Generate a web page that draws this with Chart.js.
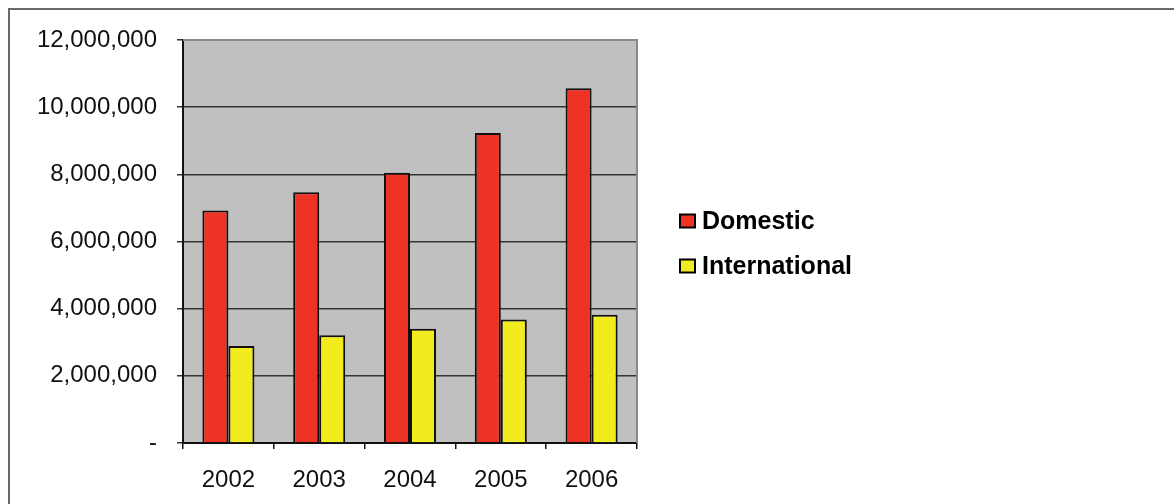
<!DOCTYPE html>
<html>
<head>
<meta charset="utf-8">
<script src="https://cdn.jsdelivr.net/npm/chart.js@4"></script>
<style>
  html, body { margin: 0; padding: 0; background: #fff; overflow: hidden; }
  #wrap { position: relative; width: 1174px; height: 504px; }
  #frame { position: absolute; left: 8px; top: 8px; width: 1200px; height: 600px;
           border-left: 2px solid #6a6a6a; border-top: 2px solid #6a6a6a; pointer-events: none; }
</style>
</head>
<body>
<div id="wrap">
  <canvas id="chart" width="1174" height="504"></canvas>
  <div id="frame"></div>
</div>
<script>
const years = ['2002', '2003', '2004', '2005', '2006'];
const domestic = [6920000, 7470000, 8050000, 9230000, 10560000];
const international = [2890000, 3210000, 3400000, 3680000, 3820000];
const seriesNames = ['Domestic', 'International'];
const seriesColors = ['#EE3224', '#F2EC1E'];

const FONT = "'Liberation Sans', Arial, sans-serif";

// grey plot background + custom legend on the right
const plotDecor = {
  id: 'plotDecor',
  beforeDraw(chart) {
    const { ctx, chartArea: a } = chart;
    ctx.save();
    ctx.fillStyle = '#C0C0C0';
    ctx.fillRect(a.left, a.top, a.right - a.left, a.bottom - a.top);
    ctx.restore();
  },
  beforeDatasetsDraw(chart) {
    const { ctx, chartArea: a } = chart;
    ctx.save();
    ctx.strokeStyle = '#8a8a8a';
    ctx.lineWidth = 2;
    ctx.beginPath();
    ctx.moveTo(a.left, a.top);
    ctx.lineTo(a.right, a.top);
    ctx.lineTo(a.right, a.bottom);
    ctx.stroke();
    ctx.restore();
  },
  afterDraw(chart) {
    const { ctx } = chart;
    ctx.save();
    chart.data.datasets.forEach((ds, i) => {
      const cy = 221 + i * 45;
      ctx.fillStyle = ds.backgroundColor;
      ctx.fillRect(680, cy - 6.5, 15, 13);
      ctx.strokeStyle = '#000';
      ctx.lineWidth = 2;
      ctx.strokeRect(680, cy - 6.5, 15, 13);
      ctx.fillStyle = '#000';
      ctx.font = 'bold 25px ' + FONT;
      ctx.textBaseline = 'middle';
      ctx.fillText(ds.label, 702, cy + 1);
    });
    ctx.restore();
  }
};

new Chart(document.getElementById('chart'), {
  type: 'bar',
  data: {
    labels: years,
    datasets: [
      { label: seriesNames[0], data: domestic, backgroundColor: seriesColors[0] },
      { label: seriesNames[1], data: international, backgroundColor: seriesColors[1] }
    ].map(d => Object.assign(d, {
      borderColor: '#111',
      borderWidth: 2,
      borderSkipped: 'bottom',
      categoryPercentage: 0.573,
      barPercentage: 1
    }))
  },
  options: {
    responsive: false,
    animation: false,
    layout: { padding: { left: 0, top: 40, right: 537, bottom: 0 } },
    plugins: {
      legend: { display: false },
      tooltip: { enabled: false }
    },
    scales: {
      x: {
        afterFit: s => { s.height = 61; },
        grid: { offset: true, drawOnChartArea: false, drawTicks: true, tickLength: 6, color: '#111', lineWidth: 1.5 },
        border: { color: '#111', width: 2 },
        ticks: { color: '#111', padding: 17, font: { family: FONT, size: 24 } }
      },
      y: {
        min: 0,
        max: 12000000,
        afterFit: s => { s.width = 183; },
        grid: { color: '#333', lineWidth: 1.5, tickLength: 6 },
        border: { color: '#111', width: 2 },
        ticks: {
          stepSize: 2000000,
          color: '#111',
          padding: 20,
          font: { family: FONT, size: 24 },
          callback: v => v === 0 ? '-' : v.toLocaleString('en-US')
        }
      }
    }
  },
  plugins: [plotDecor]
});
</script>
</body>
</html>
